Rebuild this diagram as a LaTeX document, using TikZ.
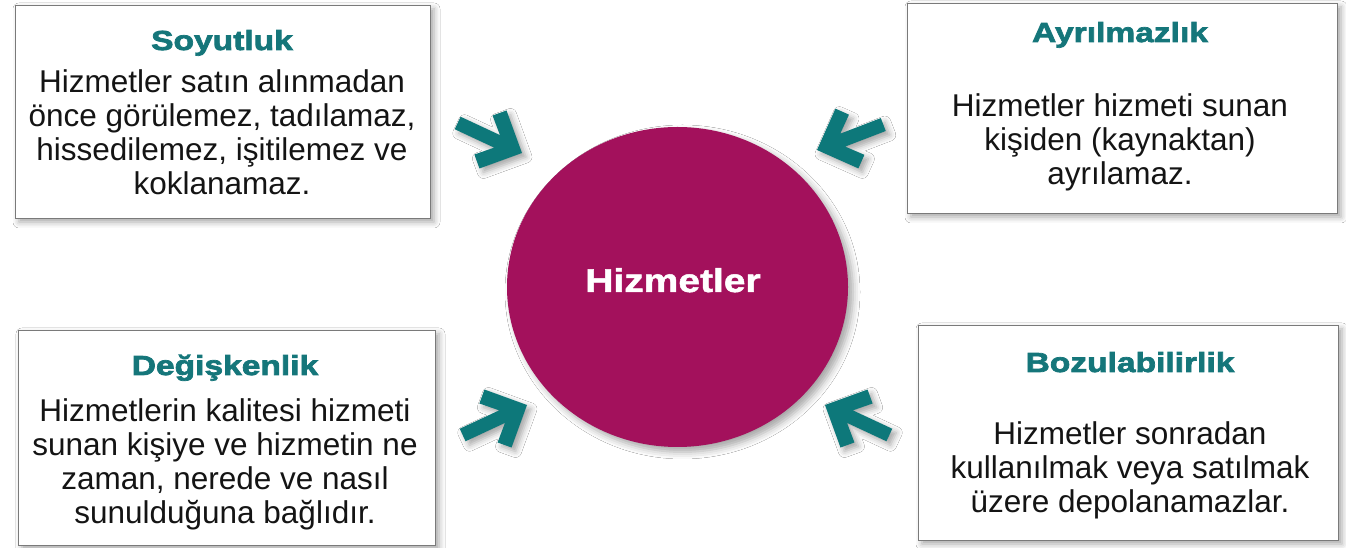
\documentclass[tikz,border=0pt]{standalone}
\usepackage{fontspec}
\setmainfont{Liberation Sans}
\newfontfamily\headfont[FakeStretch=1.22,FakeBold=2.6]{Liberation Sans Bold}
\newfontfamily\centerfont[FakeStretch=1.18,FakeBold=1.5]{Liberation Sans Bold}
\usetikzlibrary{shapes.geometric,shadows.blur}
\definecolor{headteal}{HTML}{15767A}
\definecolor{arrowteal}{HTML}{0D787A}
\definecolor{circmag}{HTML}{A3115C}
\definecolor{boxline}{HTML}{7A7A7A}
\newcommand\bodylines[1]{\begin{tabular}[t]{@{}c@{}}#1\end{tabular}}
\tikzset{
  x=1pt,y=1pt,
  softshadow/.style={blur shadow={shadow xshift=4pt,shadow yshift=-4pt,shadow blur radius=6pt,shadow opacity=35}},
  infobox/.style={draw=boxline,line width=0.8pt,fill=white,rectangle,inner sep=0pt,softshadow},
  headtext/.style={anchor=base,inner sep=0pt,text=headteal,font=\headfont\fontsize{27.5}{30}\selectfont},
  bodytext/.style={anchor=base,inner sep=0pt,text=black!92,font=\fontsize{31.5}{33.8}\selectfont},
  pics/inarrow/.style={code={
    \fill[arrowteal,softshadow] (0,0) -- (-32,32) -- (-42.5,21.5) -- (-27.5,6.9) -- (-71,6.9)
      -- (-71,-6.9) -- (-27.5,-6.9) -- (-42.5,-21.5) -- (-32,-32) -- cycle;}}
}
\begin{document}
\begin{tikzpicture}
\useasboundingbox[fill=white] (0,0) rectangle (1346,548);

% boxes
\node[infobox,minimum width=415pt,minimum height=213pt] (soy) at (222.5,436.5) {};
\node[infobox,minimum width=430pt,minimum height=210pt] (ayr) at (1122,440) {};
\node[infobox,minimum width=417pt,minimum height=215pt] (deg) at (226.5,110.5) {};
\node[infobox,minimum width=420pt,minimum height=215pt] (boz) at (1128,115.5) {};

% headings
\node[headtext] (soyh) at (222,498) {Soyutluk};
\node[headtext] (ayrh) at (1120,506) {Ayrılmazlık};
\node[headtext] (degh) at (225,173) {Değişkenlik};
\node[headtext] (bozh) at (1130,176) {Bozulabilirlik};

% bodies
\node[bodytext] (soyb) at (222,455) {\bodylines{Hizmetler satın alınmadan\\önce görülemez, tadılamaz,\\hissedilemez, işitilemez ve\\koklanamaz.}};
\node[bodytext] (ayrb) at (1120,431) {\bodylines{Hizmetler hizmeti sunan\\kişiden (kaynaktan)\\ayrılamaz.}};
\node[bodytext] (degb) at (225,126) {\bodylines{Hizmetlerin kalitesi hizmeti\\sunan kişiye ve hizmetin ne\\zaman, nerede ve nasıl\\sunulduğuna bağlıdır.}};
\node[bodytext] (bozb) at (1130,103) {\bodylines{Hizmetler sonradan\\kullanılmak veya satılmak\\üzere depolanamazlar.}};

% centre
\node[ellipse,fill=circmag,minimum width=341pt,minimum height=320pt,inner sep=0pt,
      blur shadow={shadow xshift=5pt,shadow yshift=-5pt,shadow blur radius=7pt,shadow opacity=35}] (hiz) at (677.5,261) {};
\node[anchor=base,inner sep=0pt,text=white,font=\centerfont\fontsize{33}{36}\selectfont] (hizt) at (673,256) {Hizmetler};

% arrows
\pic[rotate=-25] (a1) at (522,395) {inarrow};
\pic[rotate=201] (a2) at (817,398) {inarrow};
\pic[rotate=25] (a3) at (527,143) {inarrow};
\pic[rotate=155] (a4) at (825,143) {inarrow};
\end{tikzpicture}
\end{document}
